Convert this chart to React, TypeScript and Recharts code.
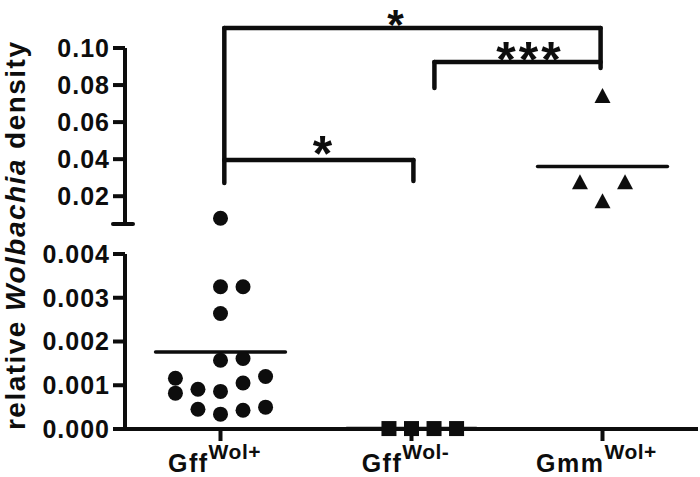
import { ScatterChart, Scatter, XAxis, YAxis, ReferenceLine, ReferenceDot } from 'recharts'

const ink = '#0d0d0d'
const font = '"Liberation Sans", Arial, Helvetica, sans-serif'

// groups on the x axis
const groupNames = ['Gff', 'Gff', 'Gmm']
const groupTags = ['Wol+', 'Wol-', 'Wol+']

// relative Wolbachia density per sample, plus its column in the dot layout
const gffPosValues = [0.0081, 0.00325, 0.00325, 0.00264, 0.00157, 0.00161, 0.0012, 0.00116, 0.00082, 0.00105, 0.00091, 0.00086, 0.00045, 0.00034, 0.00043, 0.0005]
const gffPosCols = [0, 0, 1, 0, 0, 1, 2, -2, -2, 1, -1, 0, -1, 0, 1, 2]
const gffNegValues = [0.00001, 0.00001, 0.00001, 0.00001]
const gffNegCols = [-1, 0, 1, 2]
const gmmPosValues = [0.0735, 0.027, 0.027, 0.0168]
const gmmPosCols = [0, -1, 1, 0]

const upperTicks = [0.02, 0.04, 0.06, 0.08, 0.1]
const lowerTicks = [0, 0.001, 0.002, 0.003, 0.004]

// axis break: the upper panel starts here
const breakAt = 0.005
const upperDomain = [breakAt, 0.1]
const lowerDomain = [0, 0.004]
const xDomain = [-0.5, 2.5]

// significance brackets (x in group units, y in density units)
const brackets = [
  { x1: 0.02, x2: 1.99, y: 0.1108, left: 0.0271, right: 0.0892 },
  { x1: 1.12, x2: 1.99, y: 0.0924, left: 0.0784, right: null },
  { x1: 0.02, x2: 1.01, y: 0.0395, left: null, right: 0.0282 },
]
const stars = [
  { x: 0.924, y: 0.1194, text: '*' },
  { x: 1.62, y: 0.0989, text: '***' },
  { x: 0.542, y: 0.0482, text: '*' },
]

const colStep = 0.118
const meanHalf = 0.34

type Pt = { x: number; y: number }

const toPoints = (g: number, values: number[], cols: number[]): Pt[] =>
  values.map((v, i) => ({ x: g + cols[i] * colStep, y: v }))

const mean = (a: number[]) => a.reduce((s, v) => s + v, 0) / a.length

const gffPos = toPoints(0, gffPosValues, gffPosCols)
const gffNeg = toPoints(1, gffNegValues, gffNegCols)
const gmmPos = toPoints(2, gmmPosValues, gmmPosCols)

const means = [
  { g: 0, y: mean(gffPosValues) },
  { g: 1, y: mean(gffNegValues) },
  { g: 2, y: mean(gmmPosValues) },
]

const isUpper = (p: Pt) => p.y >= breakAt

const DotShape = (p: any) => <circle cx={p.cx} cy={p.cy} r={7.5} fill={ink} />
const SquareShape = (p: any) => <rect x={p.cx - 7.5} y={p.cy - 7.5} width={15} height={15} fill={ink} />
const TriShape = (p: any) => (
  <path d={`M${p.cx},${p.cy - 9} L${p.cx + 8},${p.cy + 6} L${p.cx - 8},${p.cy + 6} Z`} fill={ink} />
)

const GroupTick = ({ x, y, payload }: any) => {
  const i = payload.value as number
  return (
    <text x={x - 6} y={y + 29} textAnchor="middle" fill={ink} fontFamily={font} fontWeight="bold">
      <tspan fontSize={25} letterSpacing={1.5}>{groupNames[i]}</tspan>
      <tspan fontSize={21} dy={-13} letterSpacing={0.5}>{groupTags[i]}</tspan>
    </text>
  )
}

const YTitle = () => (
  <text
    x={25}
    y={236}
    transform="rotate(-90, 25, 236)"
    textAnchor="middle"
    fill={ink}
    fontFamily={font}
    fontWeight="bold"
    fontSize={28}
    textLength={388}
    lengthAdjust="spacing"
  >
    relative <tspan fontStyle="italic">Wolbachia</tspan> density
  </text>
)

// asterisks sit high in their em box; shrink a little when close to the top edge
const StarLabel = (text: string) => ({ viewBox }: any) => {
  const baseline = viewBox.y + viewBox.height / 2 + 27
  const size = Math.min(50, baseline / 0.92)
  return (
    <text
      x={viewBox.x + viewBox.width / 2}
      y={baseline}
      textAnchor="middle"
      fill={ink}
      fontFamily={font}
      fontWeight="bold"
      fontSize={size}
      letterSpacing={3}
    >
      {text}
    </text>
  )
}

const tickStyle = { fill: ink, fontSize: 25, fontWeight: 'bold', fontFamily: font, letterSpacing: 1 }
const lineProps = { stroke: ink, strokeWidth: 4 }

function seg(key: string, x1: number, y1: number, x2: number, y2: number, width = 4.5) {
  return (
    <ReferenceLine
      key={key}
      segment={[{ x: x1, y: y1 }, { x: x2, y: y2 }]}
      stroke={ink}
      strokeWidth={width}
      strokeLinecap="round"
      ifOverflow="visible"
    />
  )
}

export default function App() {
  const upperLines = [
    ...brackets.flatMap((b, i) => [
      seg(`b${i}h`, b.x1, b.y, b.x2, b.y),
      b.left != null ? seg(`b${i}l`, b.x1, b.y, b.x1, b.left) : null,
      b.right != null ? seg(`b${i}r`, b.x2, b.y, b.x2, b.right) : null,
    ]),
    ...means.filter((m) => m.y >= breakAt).map((m) => seg(`m${m.g}`, m.g - meanHalf, m.y, m.g + meanHalf, m.y, 3.5)),
    // break cap at the bottom of the upper axis
    seg('cap', -0.563, breakAt, -0.458, breakAt, 4),
  ]
  const lowerLines = means
    .filter((m) => m.y < breakAt)
    .map((m) => seg(`m${m.g}`, m.g - meanHalf, m.y, m.g + meanHalf, m.y, 3.5))

  return (
    <div style={{ position: 'absolute', left: 0, top: 0, width: 700, height: 477, background: '#fff' }}>
      <div style={{ position: 'absolute', left: 0, top: 0 }}>
        <ScatterChart width={700} height={477} margin={{ top: 254, right: 2, bottom: 0, left: 0 }}>
          <XAxis
            type="number"
            dataKey="x"
            domain={xDomain}
            ticks={[0, 1, 2]}
            height={48}
            tickSize={12}
            tickMargin={2}
            axisLine={lineProps}
            tickLine={lineProps}
            tick={<GroupTick />}
          />
          <YAxis
            type="number"
            dataKey="y"
            domain={lowerDomain}
            ticks={lowerTicks}
            width={125}
            tickSize={12}
            tickMargin={3}
            axisLine={lineProps}
            tickLine={lineProps}
            tick={tickStyle}
            tickFormatter={(v: number) => v.toFixed(3)}
            label={YTitle}
          />
          {lowerLines}
          <Scatter data={gffPos.filter((p) => !isUpper(p))} shape={DotShape} isAnimationActive={false} />
          <Scatter data={gffNeg} shape={SquareShape} isAnimationActive={false} />
        </ScatterChart>
      </div>
      <div style={{ position: 'absolute', left: 0, top: 0 }}>
        <ScatterChart width={700} height={477} margin={{ top: 48, right: 2, bottom: 253, left: 0 }}>
          <XAxis type="number" dataKey="x" domain={xDomain} hide />
          <YAxis
            type="number"
            dataKey="y"
            domain={upperDomain}
            ticks={upperTicks}
            width={125}
            tickSize={12}
            tickMargin={3}
            axisLine={lineProps}
            tickLine={lineProps}
            tick={tickStyle}
            tickFormatter={(v: number) => v.toFixed(2)}
          />
          {upperLines}
          <Scatter data={gffPos.filter(isUpper)} shape={DotShape} isAnimationActive={false} />
          <Scatter data={gmmPos} shape={TriShape} isAnimationActive={false} />
          {stars.map((s, i) => (
            <ReferenceDot key={`s${i}`} x={s.x} y={s.y} r={0} ifOverflow="visible" label={StarLabel(s.text)} />
          ))}
        </ScatterChart>
      </div>
    </div>
  )
}
